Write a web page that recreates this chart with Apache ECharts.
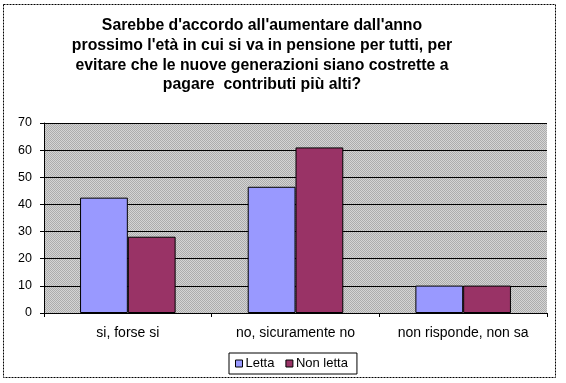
<!DOCTYPE html>
<html><head><meta charset="utf-8">
<script src="https://cdn.jsdelivr.net/npm/echarts@6/dist/echarts.min.js"></script>
<style>html,body{margin:0;padding:0;background:#fff}#c{width:566px;height:383px}</style>
</head><body><div id="c"></div>
<script>
const titleText = "Sarebbe d'accordo all'aumentare dall'anno\nprossimo l'età in cui si va in pensione per tutti, per\nevitare che le nuove generazioni siano costrette a\npagare  contributi più alti?";
const categories = ["si, forse si", "no, sicuramente no", "non risponde, non sa"];
const seriesNames = ["Letta", "Non letta"];
const letta = [42.5, 46.5, 10.1];
const nonLetta = [28.1, 61.0, 10.1];
const yTicks = [0, 10, 20, 30, 40, 50, 60, 70];

const pc = document.createElement('canvas');
pc.width = 2; pc.height = 2;
const pctx = pc.getContext('2d');
pctx.fillStyle = '#d4d4d4'; pctx.fillRect(0,0,2,2);
pctx.fillStyle = '#acacac'; pctx.fillRect(0,0,1,1); pctx.fillRect(1,1,1,1);

const chart = echarts.init(document.getElementById('c'), null, {renderer:'canvas'});
chart.setOption({
  animation: false,
  backgroundColor: '#fff',
  graphic: [
    {type:'rect', shape:{x:3.5,y:4.5,width:552,height:373}, style:{fill:'none', stroke:'#000', lineWidth:1, lineDash:[2,1]}, z:-1},
    {type:'text', x:262, y:16, style:{text:titleText, align:'center', verticalAlign:'top', font:'bold 15.8px "Liberation Sans", Arial', lineHeight:19.7, fill:'#000'}}
  ],
  legend: {bottom: 9, left: 229, data: seriesNames, itemWidth: 7, itemHeight: 7, itemGap: 11, icon: 'rect', borderColor:'#000', borderWidth:1, padding:[4,9,4,6], textStyle:{fontFamily:'Liberation Sans, Arial', fontSize:13, color:'#000', padding:[0,0,0,-2]}, itemStyle:{borderColor:'#000', borderWidth:1}},
  grid: {left: 44, right: 19, top: 123, bottom: 70, show: true, backgroundColor: {image: pc, repeat: 'repeat'}, borderWidth: 0},
  xAxis: {type:'category', data: categories, axisLine:{lineStyle:{color:'#000'}}, axisTick:{show:true, length:4, lineStyle:{color:'#000'}}, axisLabel:{interval:0, fontFamily:'Liberation Sans, Arial', fontSize:14, color:'#000', margin:13}},
  yAxis: {type:'value', min: yTicks[0], max: yTicks[yTicks.length-1], interval: 10, axisLine:{show:true, lineStyle:{color:'#000'}}, axisTick:{show:true, length:4, lineStyle:{color:'#000'}}, splitLine:{lineStyle:{color:'#000', width:1}}, axisLabel:{fontFamily:'Liberation Sans, Arial', fontSize:12.5, color:'#000', margin:12}},
  series: [
    {name: seriesNames[0], type:'bar', data: letta, barGap:'0%', barCategoryGap:'43%', itemStyle:{color:'#9999FF', borderColor:'#000', borderWidth:1}},
    {name: seriesNames[1], type:'bar', data: nonLetta, barGap:'0%', barCategoryGap:'43%', itemStyle:{color:'#993366', borderColor:'#000', borderWidth:1}}
  ]
});
</script></body></html>
